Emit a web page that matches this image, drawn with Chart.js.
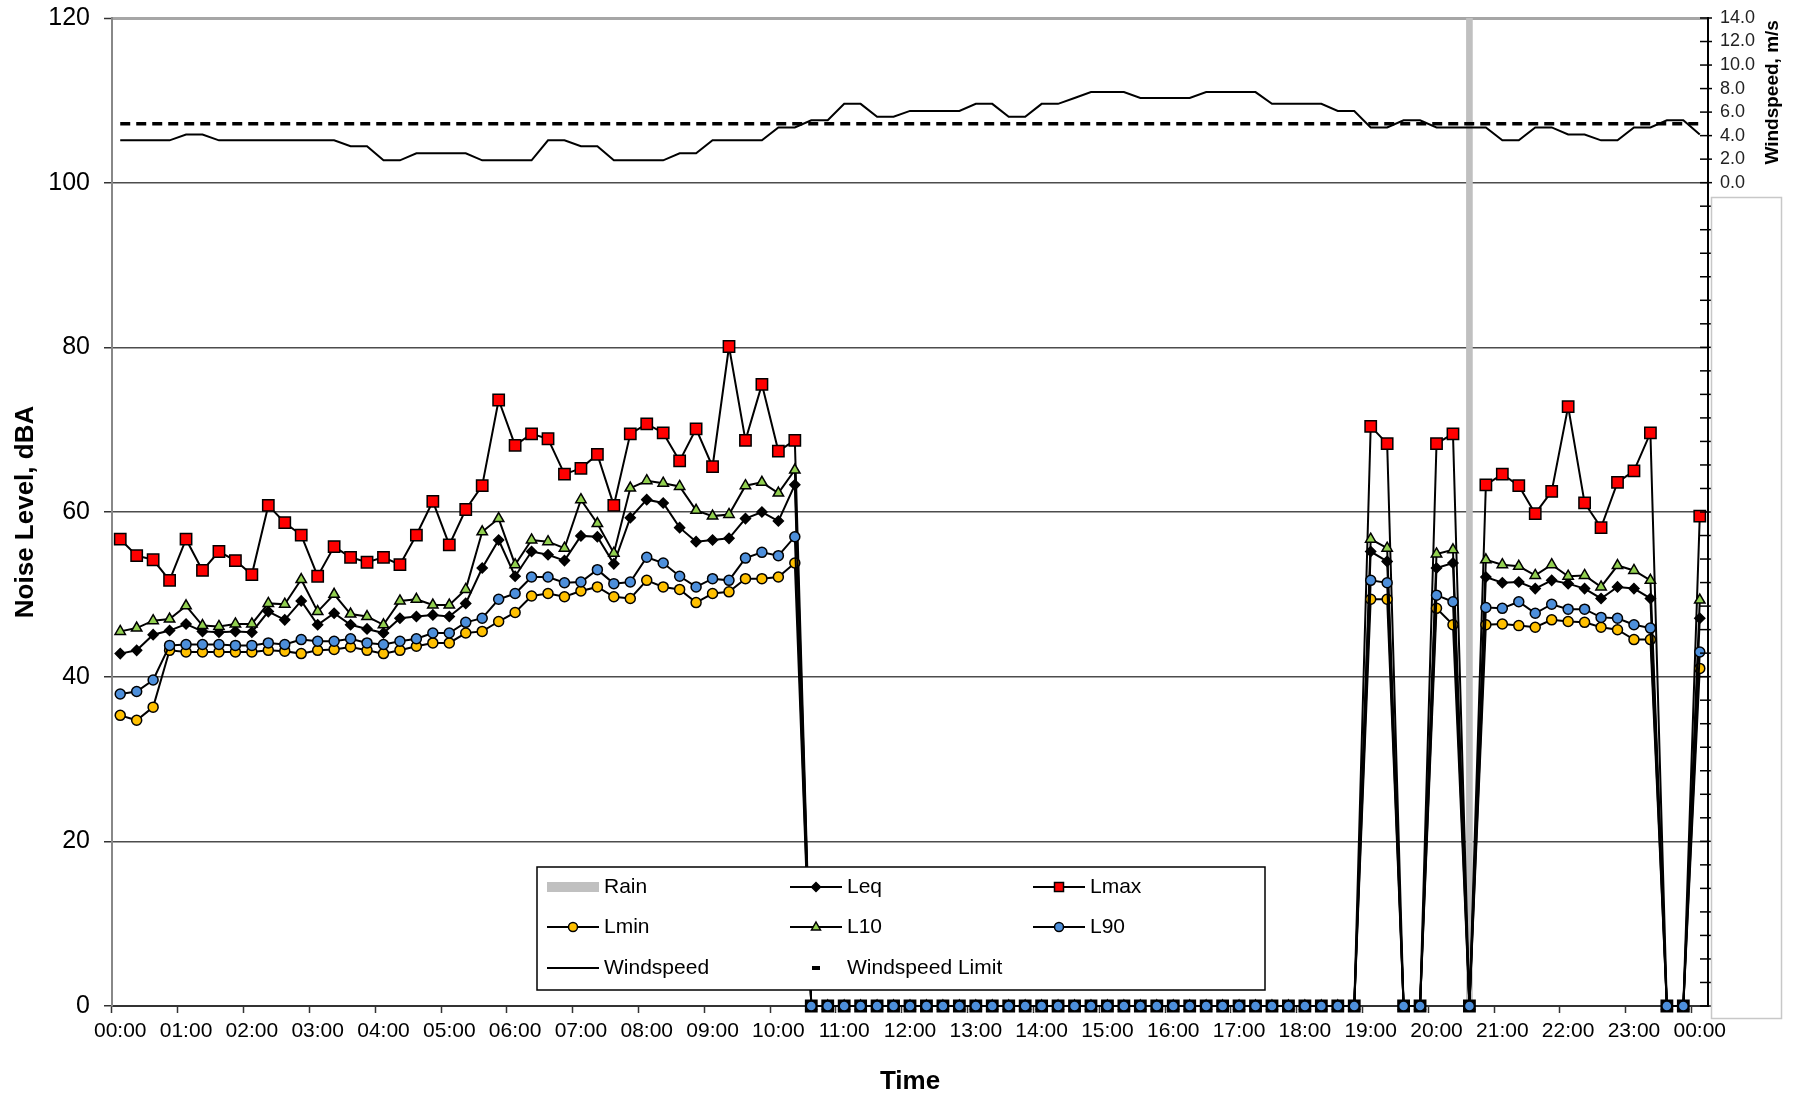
<!DOCTYPE html>
<html>
<head>
<meta charset="utf-8">
<title>Noise Level</title>
<script src="https://cdn.jsdelivr.net/npm/chart.js@4.4.1/dist/chart.umd.min.js"></script>
<style>
  body { margin: 0; background: #fff; }
  canvas { display: block; }
</style>
</head>
<body>
<canvas id="chartNoise" width="1795" height="1097"></canvas>
<script>
// 15 minute intervals, 00:00 to 00:00 next day
const times = ['00:00','00:15','00:30','00:45','01:00','01:15','01:30','01:45','02:00','02:15','02:30','02:45',
  '03:00','03:15','03:30','03:45','04:00','04:15','04:30','04:45','05:00','05:15','05:30','05:45',
  '06:00','06:15','06:30','06:45','07:00','07:15','07:30','07:45','08:00','08:15','08:30','08:45',
  '09:00','09:15','09:30','09:45','10:00','10:15','10:30','10:45','11:00','11:15','11:30','11:45',
  '12:00','12:15','12:30','12:45','13:00','13:15','13:30','13:45','14:00','14:15','14:30','14:45',
  '15:00','15:15','15:30','15:45','16:00','16:15','16:30','16:45','17:00','17:15','17:30','17:45',
  '18:00','18:15','18:30','18:45','19:00','19:15','19:30','19:45','20:00','20:15','20:30','20:45',
  '21:00','21:15','21:30','21:45','22:00','22:15','22:30','22:45','23:00','23:15','23:30','23:45','00:00']

const leq = [42.8,43.2,45.1,45.6,46.4,45.5,45.4,45.5,45.4,47.9,46.9,49.2,46.3,47.7,46.3,45.8,45.3,47.1,47.3,47.5,
  47.3,48.9,53.2,56.6,52.2,55.2,54.8,54.1,57.1,57.0,53.7,59.3,61.5,61.1,58.1,56.4,56.6,56.8,59.2,60.0,58.9,63.3,
  0,0,0,0,0,0,0,0,0,0,0,0,0,0,0,0,0,0,0,0,0,0,0,0,0,0,0,0,0,0,0,0,0,0,
  55.2,54.0,0,0,53.2,53.8,0,52.1,51.4,51.5,50.7,51.7,51.3,50.7,49.5,50.9,50.7,49.5,0,0,47.1]

const lmax = [56.7,54.7,54.2,51.7,56.7,52.9,55.2,54.1,52.4,60.8,58.7,57.2,52.2,55.8,54.5,53.9,54.5,53.6,57.2,61.3,
  56.0,60.3,63.2,73.6,68.1,69.5,68.9,64.6,65.3,67.0,60.8,69.5,70.7,69.6,66.2,70.1,65.5,80.1,68.7,75.5,67.4,68.7,
  0,0,0,0,0,0,0,0,0,0,0,0,0,0,0,0,0,0,0,0,0,0,0,0,0,0,0,0,0,0,0,0,0,0,
  70.4,68.3,0,0,68.3,69.5,0,63.3,64.6,63.2,59.8,62.5,72.8,61.1,58.1,63.6,65.0,69.6,0,0,59.5]

const lmin = [35.3,34.7,36.3,43.2,43.0,43.0,43.0,43.0,43.0,43.2,43.1,42.8,43.2,43.3,43.6,43.2,42.8,43.2,43.7,44.1,
  44.1,45.3,45.5,46.7,47.8,49.8,50.1,49.7,50.4,50.9,49.7,49.5,51.7,50.9,50.6,49.0,50.1,50.3,51.9,51.9,52.1,53.8,
  0,0,0,0,0,0,0,0,0,0,0,0,0,0,0,0,0,0,0,0,0,0,0,0,0,0,0,0,0,0,0,0,0,0,
  49.4,49.4,0,0,48.3,46.3,0,46.3,46.4,46.2,46.0,46.9,46.7,46.6,46.0,45.7,44.5,44.5,0,0,41.0]

const l10 = [45.5,45.9,46.8,47.0,48.6,46.2,46.1,46.4,46.4,48.9,48.8,51.8,47.9,50.0,47.6,47.3,46.3,49.2,49.4,48.7,
  48.7,50.6,57.6,59.2,53.6,56.6,56.4,55.6,61.5,58.6,55.0,62.9,63.8,63.5,63.1,60.2,59.5,59.7,63.2,63.6,62.3,65.1,
  0,0,0,0,0,0,0,0,0,0,0,0,0,0,0,0,0,0,0,0,0,0,0,0,0,0,0,0,0,0,0,0,0,0,
  56.7,55.6,0,0,54.9,55.4,0,54.2,53.6,53.4,52.3,53.6,52.2,52.3,50.9,53.5,52.9,51.7,0,0,49.3]

const l90 = [37.9,38.2,39.6,43.8,43.9,43.9,43.9,43.8,43.8,44.1,43.9,44.5,44.3,44.3,44.6,44.1,43.9,44.3,44.6,45.3,
  45.3,46.6,47.1,49.4,50.1,52.1,52.1,51.4,51.5,53.0,51.3,51.5,54.5,53.8,52.2,50.9,51.9,51.7,54.4,55.1,54.7,57.0,
  0,0,0,0,0,0,0,0,0,0,0,0,0,0,0,0,0,0,0,0,0,0,0,0,0,0,0,0,0,0,0,0,0,0,
  51.7,51.4,0,0,49.9,49.1,0,48.4,48.3,49.1,47.7,48.8,48.2,48.2,47.2,47.1,46.3,45.9,0,0,43.0]

// windspeed, m/s
const wind = [3.6,3.6,3.6,3.6,4.1,4.1,3.6,3.6,3.6,3.6,3.6,3.6,3.6,3.6,3.1,3.1,1.9,1.9,2.5,2.5,
  2.5,2.5,1.9,1.9,1.9,1.9,3.6,3.6,3.1,3.1,1.9,1.9,1.9,1.9,2.5,2.5,3.6,3.6,3.6,3.6,
  4.7,4.7,5.3,5.3,6.7,6.7,5.6,5.6,6.1,6.1,6.1,6.1,6.7,6.7,5.6,5.6,6.7,6.7,7.2,7.7,
  7.7,7.7,7.2,7.2,7.2,7.2,7.7,7.7,7.7,7.7,6.7,6.7,6.7,6.7,6.1,6.1,4.7,4.7,5.3,5.3,
  4.7,4.7,4.7,4.7,3.6,3.6,4.7,4.7,4.1,4.1,3.6,3.6,4.7,4.7,5.3,5.3,4.1]

const windLimit = times.map(() => 5.0)

// rain period marked as a full height bar
const rain = times.map(t => null)
rain[82] = 120

const FONT = "'Liberation Sans', Arial, sans-serif"
Chart.defaults.font.family = FONT
Chart.defaults.color = '#000'

const ctx = document.getElementById('chartNoise')

function marker(c, style, x, y, r) {
  c.beginPath()
  if (style === 'circle') {
    c.arc(x, y, r, 0, Math.PI * 2)
  } else if (style === 'rect') {
    c.rect(x - r, y - r, r * 2, r * 2)
  } else if (style === 'rectRot') {
    c.moveTo(x - r, y); c.lineTo(x, y - r); c.lineTo(x + r, y); c.lineTo(x, y + r)
  } else if (style === 'triangle') {
    c.moveTo(x, y - r); c.lineTo(x + r * 0.9, y + r * 0.6); c.lineTo(x - r * 0.9, y + r * 0.6)
  }
  c.closePath()
  c.fill()
  c.stroke()
}

const legendItems = [
  { text: 'Rain', kind: 'bar' },
  { text: 'Leq', kind: 'line', style: 'rectRot', fill: '#000', r: 4.5 },
  { text: 'Lmax', kind: 'line', style: 'rect', fill: '#ff0000', r: 4.5 },
  { text: 'Lmin', kind: 'line', style: 'circle', fill: '#ffc000', r: 4.5 },
  { text: 'L10', kind: 'line', style: 'triangle', fill: '#92d050', r: 5 },
  { text: 'L90', kind: 'line', style: 'circle', fill: '#4d8fdb', r: 4.5 },
  { text: 'Windspeed', kind: 'line' },
  { text: 'Windspeed Limit', kind: 'dash' }
]

const boxLegend = {
  id: 'boxLegend',
  afterDatasetsDraw(chart) {
    const c = chart.ctx
    const bx = 537, by = 867, bw = 728, bh = 123
    const colX = [547, 790, 1033]
    const rowY = [887, 927, 968]
    c.save()
    c.fillStyle = '#fff'
    c.fillRect(bx, by, bw, bh)
    c.strokeStyle = '#000'
    c.lineWidth = 1.5
    c.strokeRect(bx, by, bw, bh)
    c.font = '21px ' + FONT
    c.textBaseline = 'middle'
    legendItems.forEach((it, i) => {
      const x = colX[i % 3]
      const y = rowY[Math.floor(i / 3)]
      if (it.kind === 'bar') {
        c.fillStyle = '#c0c0c0'
        c.fillRect(x, y - 5, 52, 10)
      } else if (it.kind === 'dash') {
        c.fillStyle = '#000'
        c.fillRect(x + 22, y - 2, 8, 4)
      } else {
        c.strokeStyle = '#000'
        c.lineWidth = 2
        c.beginPath()
        c.moveTo(x, y); c.lineTo(x + 52, y)
        c.stroke()
        if (it.style) {
          c.fillStyle = it.fill
          c.lineWidth = 1.5
          marker(c, it.style, x + 26, y, it.r)
        }
      }
      c.fillStyle = '#000'
      c.fillText(it.text, x + 57, y)
    })
    c.restore()
  },
  afterDraw(chart) {
    const c = chart.ctx
    const s = chart.scales.y2
    c.save()
    // cross ticks on the windspeed axis
    c.strokeStyle = '#000'
    c.lineWidth = 1.5
    s.ticks.forEach(t => {
      const py = s.getPixelForValue(t.value)
      c.beginPath()
      c.moveTo(s.left - 8, py); c.lineTo(s.left + 4, py)
      c.stroke()
    })
    // empty box right of the axis
    c.strokeStyle = '#c8c8c8'
    c.lineWidth = 1.5
    c.strokeRect(1711.5, 197.5, 70, 821)
    // windspeed axis title, reads bottom to top
    const top = chart.scales.y.getPixelForValue(120)
    const zero = chart.scales.y.getPixelForValue(100)
    c.translate(1773, (top + zero) / 2 - 8)
    c.rotate(-Math.PI / 2)
    c.font = 'bold 19px ' + FONT
    c.fillStyle = '#000'
    c.textAlign = 'center'
    c.textBaseline = 'middle'
    c.fillText('Windspeed, m/s', 0, 0)
    c.restore()
  }
}

const noiseLine = (label, data, style, fill, r, order) => ({
  label: label,
  data: data,
  yAxisID: 'y',
  borderColor: '#000',
  borderWidth: 2,
  pointStyle: style,
  pointRadius: r,
  pointBorderColor: '#000',
  pointBorderWidth: 1.5,
  pointBackgroundColor: fill,
  order: order,
  clip: false
})

// vertical axes: fixed width, and no extra room above the plot for the end labels
const fixWidth = w => s => {
  s.width = w
  s.paddingTop = 0
  s.paddingBottom = 0
}

const chartNoise = new Chart(ctx, {
  type: 'line',
  data: {
    labels: times,
    datasets: [
      {
        type: 'bar',
        label: 'Rain',
        data: rain,
        yAxisID: 'y',
        backgroundColor: '#c0c0c0',
        barThickness: 6,
        order: 8
      },
      noiseLine('Leq', leq, 'rectRot', '#000', 5, 5),
      noiseLine('Lmax', lmax, 'rect', c => c.raw === 0 ? '#000' : '#ff0000', 8, 4),
      noiseLine('Lmin', lmin, 'circle', '#ffc000', 5, 3),
      noiseLine('L10', l10, 'triangle', '#92d050', 6, 2),
      noiseLine('L90', l90, 'circle', '#4d8fdb', 5, 1),
      {
        label: 'Windspeed',
        data: wind,
        yAxisID: 'y2',
        borderColor: '#000',
        borderWidth: 2,
        pointRadius: 0,
        order: 6
      },
      {
        label: 'Windspeed Limit',
        data: windLimit,
        yAxisID: 'y2',
        borderColor: '#000',
        borderWidth: 3.5,
        borderDash: [10, 6],
        pointRadius: 0,
        order: 7
      }
    ]
  },
  options: {
    responsive: false,
    animation: false,
    layout: { padding: { top: 18, left: 0, right: 0, bottom: 0 } },
    plugins: {
      legend: { display: false },
      tooltip: { enabled: false }
    },
    scales: {
      x: {
        type: 'category',
        offset: true,
        grid: {
          offset: true,
          drawOnChartArea: false,
          tickLength: 7,
          tickWidth: 1.5,
          tickColor: c => c.index % 4 === 0 ? '#333' : 'rgba(0,0,0,0)'
        },
        border: { color: '#333', width: 2 },
        ticks: {
          autoSkip: false,
          maxRotation: 0,
          padding: 6,
          font: { size: 21 },
          callback: (v, i) => i % 4 === 0 ? times[i] : ''
        },
        title: {
          display: true,
          text: 'Time',
          font: { size: 26, weight: 'bold' },
          padding: { top: 0, bottom: 0 }
        },
        afterFit: s => { s.height = 91 }
      },
      y: {
        position: 'left',
        min: 0,
        max: 120,
        ticks: { stepSize: 20, padding: 14, font: { size: 25 } },
        grid: {
          color: c => c.tick && c.tick.value === 120 ? '#a6a6a6' : '#4d4d4d',
          lineWidth: c => c.tick && c.tick.value === 120 ? 3 : 1.5,
          tickLength: 8,
          tickColor: '#333',
          tickWidth: 1.5
        },
        border: { color: '#888', width: 2 },
        title: {
          display: true,
          text: 'Noise Level, dBA',
          font: { size: 26, weight: 'bold' },
          padding: { top: 10, bottom: 0 }
        },
        afterFit: fixWidth(112)
      },
      y2: {
        position: 'right',
        min: -70,
        max: 14,
        ticks: {
          stepSize: 2,
          maxTicksLimit: 60,
          autoSkip: false,
          padding: 12,
          font: { size: 18 },
          color: '#222',
          callback: v => v >= 0 ? v.toFixed(1) : ''
        },
        grid: { drawOnChartArea: false, drawTicks: false },
        border: { color: '#000', width: 2 },
        afterFit: fixWidth(87)
      }
    }
  },
  plugins: [boxLegend]
})
</script>
</body>
</html>
